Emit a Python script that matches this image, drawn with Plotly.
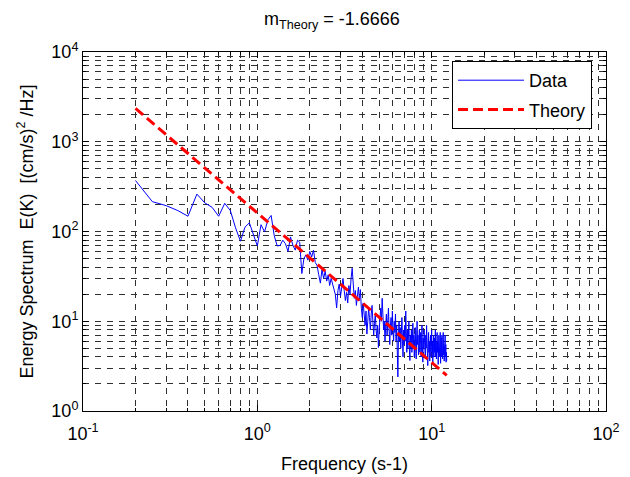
import numpy as np
import plotly.graph_objects as go

# Spectrum values, frequency grid 0.20 .. 12.20 Hz, step 0.05
data_y = [
    370, 215, 194, 171, 148, 261, 208, 186, 148, 206,
    171, 110, 78, 112, 125, 90, 69, 119, 99, 135,
    151, 90, 69, 70, 80, 73, 60, 87, 70, 62,
    80, 76, 34, 50, 55, 48, 60, 52, 62, 45,
    42, 33, 26.6, 38, 30, 36, 28, 33, 25, 30,
    26, 23.4, 20, 14.1, 22, 26, 19, 24, 30, 22,
    17, 21, 16, 25, 20, 30, 38.9, 26, 18, 22,
    15, 19, 24, 17, 22.5, 14, 11, 16, 12, 9,
    13, 7.2, 10, 14, 11, 8, 12, 15, 10, 7,
    9.5, 12, 8, 6.5, 9, 5.1, 8, 11, 14, 10,
    18, 12, 8, 10, 6, 9, 12, 7, 10, 14,
    8, 5.5, 9, 11, 7, 13, 8, 6, 10, 7.5,
    12, 6, 9, 5, 2.4, 7, 10, 6, 8.5, 5,
    7, 11, 6, 4, 8, 5.5, 9, 6, 13, 7,
    4.5, 8, 5, 6.5, 10, 5, 3.65, 7, 5, 8,
    4.5, 6, 9.5, 5, 7, 4, 6, 8.5, 5, 3.8,
    6.5, 10, 5.5, 7, 4.2, 6, 8, 4.5, 5.5, 7.5,
    4, 6, 9, 5, 3.5, 6.5, 5, 8, 4.5, 6,
    3.8, 7, 5, 9, 4, 6, 3.2, 5.5, 7.5, 4.5,
    6, 3.6, 5, 7, 4, 5.5, 8, 4.5, 6, 3.5,
    5, 7, 4, 6.5, 4.5, 5.5, 8, 4, 6, 3.8,
    5, 7.5, 4.5, 6, 3.3, 5.5, 7, 4, 6, 4.8,
    7.5, 3.4, 5.5, 6.5, 4, 7, 5, 3.8, 6, 7.5,
    4.2, 5.5, 3.6, 6.5, 5, 7, 4, 5.5, 3.5, 4.5,
    3.65,
]
freq_start = 0.20
freq_step = 0.05
data_x = [round(freq_start + freq_step * i, 2) for i in range(len(data_y))]

# Theory line end points
theory_x = [0.2, 12.2]
theory_y = [2350, 2.5]

x_tickvals = [0.1, 1, 10, 100]
x_ticktext = ["10<sup>-1</sup>", "10<sup>0</sup>", "10<sup>1</sup>", "10<sup>2</sup>"]
y_tickvals = [1, 10, 100, 1000, 10000]
y_ticktext = ["10<sup>0</sup>", "10<sup>1</sup>", "10<sup>2</sup>", "10<sup>3</sup>", "10<sup>4</sup>"]
x_minor = [d * 10.0 ** e for e in (-1, 0, 1) for d in range(2, 10)]
y_minor = [d * 10.0 ** e for e in (0, 1, 2, 3) for d in range(2, 10)]

FONT = "Liberation Sans, Arial, sans-serif"
FS = 18
GRID = "#303030"

L, R, T, B = 83, 24, 52, 66
PW = 630 - L - R
PH = 477 - T - B

fig = go.Figure()
fig.add_trace(go.Scatter(x=data_x, y=data_y, mode="lines", name="Data", legendgroup="a",
                         line=dict(color="#0000ff", width=1)))
fig.add_trace(go.Scatter(x=theory_x, y=theory_y, mode="lines", name="Theory", legendgroup="b",
                         line=dict(color="#ff0000", width=3, dash="10px,5px")))

axis_common = dict(
    type="log", showline=True, linecolor="black", linewidth=1, mirror="allticks",
    ticks="inside", ticklen=6, tickcolor="black", tickwidth=1,
    showgrid=True, gridcolor=GRID, gridwidth=1, griddash="6px,6px",
    zeroline=False, tickfont=dict(size=FS, color="black", family=FONT),
    automargin=False,
)

fig.update_xaxes(
    **axis_common, range=[-1, 2], tickmode="array", tickvals=x_tickvals, ticktext=x_ticktext,
    ticklabelstandoff=6,
    minor=dict(tickmode="array", tickvals=x_minor, ticks="inside", ticklen=3,
               tickcolor="black", showgrid=True, gridcolor=GRID, gridwidth=1, griddash="6px,6px"),
    title=dict(text="Frequency (s-1)", font=dict(size=FS, color="black", family=FONT), standoff=14),
)
fig.update_yaxes(
    **axis_common, range=[0, 4], tickmode="array", tickvals=y_tickvals, ticktext=y_ticktext,
    minor=dict(tickmode="array", tickvals=y_minor, ticks="inside", ticklen=3,
               tickcolor="black", showgrid=True, gridcolor=GRID, gridwidth=1, griddash="6px,6px"),
    title=dict(text="Energy Spectrum&nbsp;&nbsp;E(K)&nbsp;&nbsp;[(cm/s)<sup>2</sup> /Hz]",
               font=dict(size=FS, color="black", family=FONT), standoff=13),
)

fig.update_layout(
    width=630, height=477,
    margin=dict(l=L, r=R, t=T, b=B),
    paper_bgcolor="white", plot_bgcolor="white",
    font=dict(family=FONT, color="black", size=FS),
    title=dict(text="m<sub>Theory</sub> = -1.6666", x=332 / 630, xanchor="center",
               y=1 - 19 / 477, yanchor="middle", font=dict(size=FS, color="black", family=FONT)),
    showlegend=True,
    legend=dict(x=(452 - L) / PW, y=(477 - B - 61) / PH, xanchor="left", yanchor="top",
                bgcolor="white", bordercolor="black", borderwidth=1,
                font=dict(size=FS, color="black", family=FONT), itemwidth=66,
                tracegroupgap=3),
)

fig.write_html("out.html", config={"displayModeBar": False},
               post_script="document.body.style.margin='0';document.body.style.overflow='hidden';")
